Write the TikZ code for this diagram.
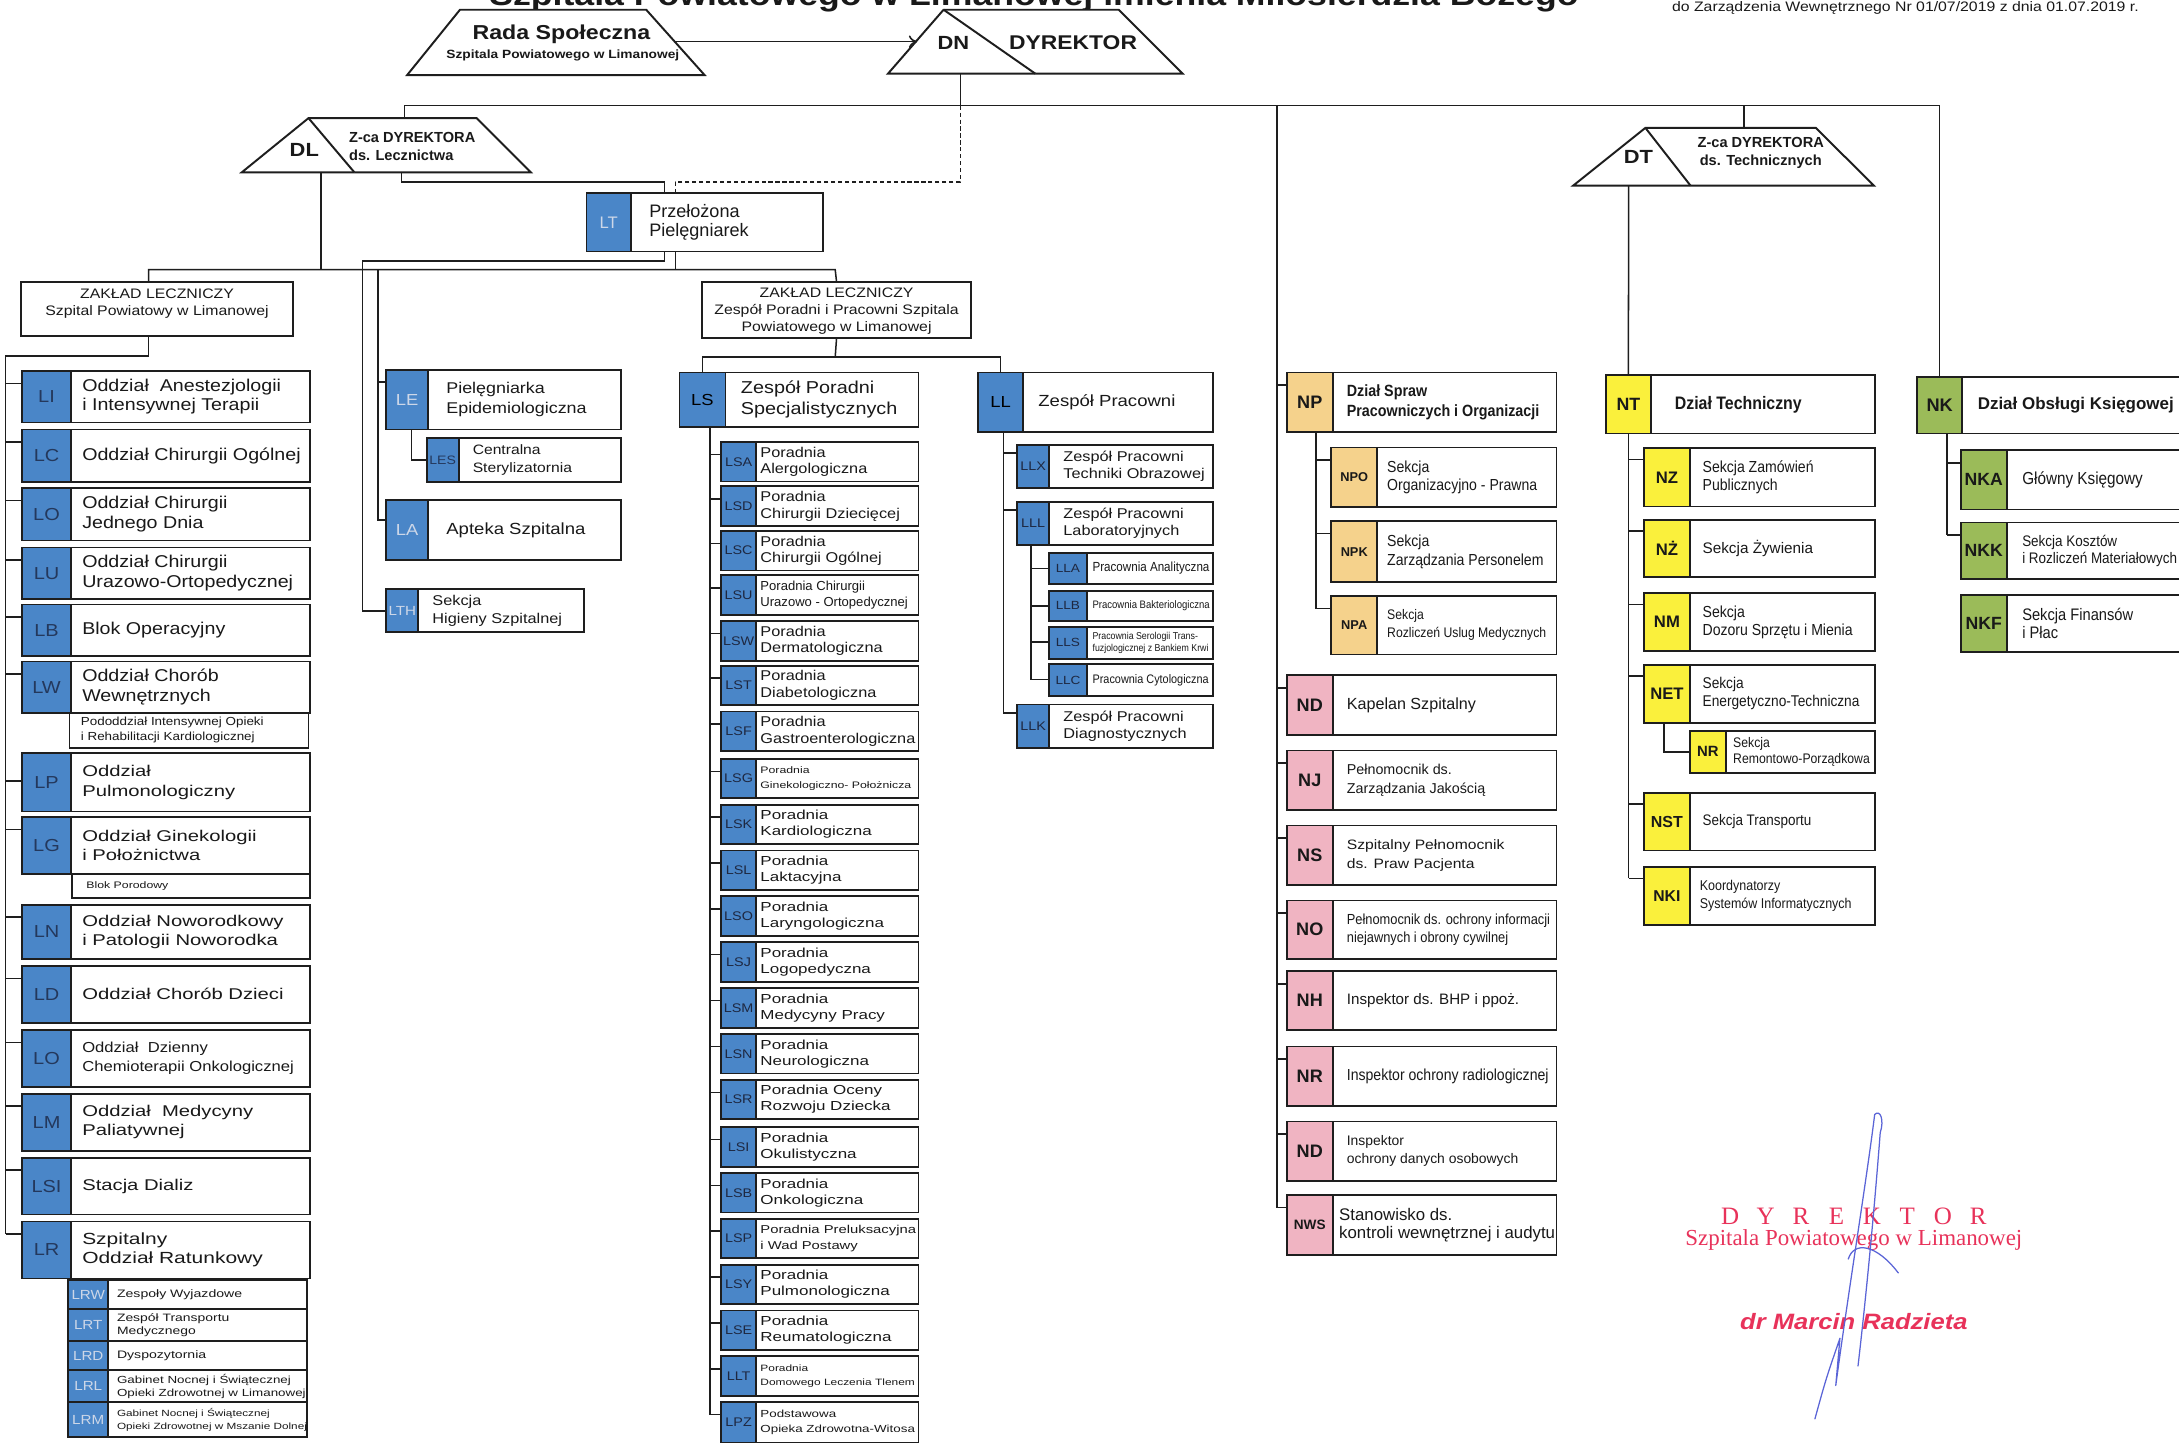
\documentclass[tikz,border=0pt]{standalone}
\usepackage{fontspec}
\usepackage{tikz}
\usetikzlibrary{arrows.meta}
\setmainfont{Liberation Sans}
\newfontfamily\fplain{Liberation Sans}
\newfontfamily\fwide{Liberation Sans}[FakeStretch=1.15]
\newfontfamily\fxwide{Liberation Sans}[FakeStretch=1.3]
\newfontfamily\fnarrow{Liberation Sans}[FakeStretch=0.88]
\newfontfamily\fserif{Liberation Serif}
\newcommand{\fsz}[2]{\fontsize{#1}{#2}\selectfont}
\definecolor{lblue}{RGB}{74,134,200}
\definecolor{lnavy}{RGB}{36,56,92}
\definecolor{llight}{RGB}{205,215,232}
\definecolor{ldark}{RGB}{30,40,65}
\definecolor{porange}{RGB}{245,210,140}
\definecolor{npink}{RGB}{240,180,194}
\definecolor{tyellow}{RGB}{250,240,60}
\definecolor{kgreen}{RGB}{155,187,89}
\definecolor{linec}{RGB}{30,30,30}
\definecolor{txtc}{RGB}{25,25,25}
\definecolor{stampred}{RGB}{232,50,90}
\definecolor{signblue}{RGB}{90,100,215}
% unit box: name, x1, y1, x2, y2, code style, code, text font, text
\newcommand{\orgbox}[9]{%
  \node[unitbox, minimum width={(#4-(#2))*1pt}, minimum height={(#5-(#3))*1pt}] (#1) at (#2,#3) {};
  \node[codebox, #6, minimum width={\codew*1pt}, minimum height={(#5-(#3))*1pt}] (#1-c) at (#2,#3) {#7};
  \node[unittext, font=#8] (#1-t) at ([xshift=\txtpad*1pt]#1-c.east) {#9};
  \coordinate (#1-k) at ([yshift=-\tickdy*1pt]#1.north west);
}

\begin{document}
\begin{tikzpicture}[x=1pt, y=-1pt,
  unitbox/.style={draw=linec, line width=1.3pt, fill=white, anchor=north west, inner sep=0pt, outer sep=0pt},
  codebox/.style={draw=linec, line width=1.3pt, anchor=north west, inner sep=0pt, outer sep=0pt, text=txtc},
  unittext/.style={anchor=west, align=left, inner sep=0pt, text=txtc},
  plaintext/.style={inner sep=0pt, text=txtc},
  link/.style={draw=linec, line width=1.1pt},
  shapeln/.style={draw=linec, line width=1.4pt, fill=white},
  lcode/.style={fill=lblue, text=lnavy, font=\fwide\fsz{12.5}{14}},
  lcodelt/.style={fill=lblue, text=llight, font=\fwide\fsz{11.5}{12}},
  lbig/.style={fill=lblue, text=ldark, font=\fwide\fsz{11.5}{12}},
  lsub/.style={fill=lblue, text=ldark, font=\fwide\fsz{9}{10}},
  lrsub/.style={fill=lblue, text=llight, font=\fwide\fsz{9.5}{10}},
  pcode/.style={fill=porange, font=\fplain\bfseries\fsz{13}{14}},
  psub/.style={fill=porange, font=\fplain\bfseries\fsz{9.2}{10}},
  ncode/.style={fill=npink, font=\fplain\bfseries\fsz{13}{14}},
  tcode/.style={fill=tyellow, font=\fplain\bfseries\fsz{12}{13}},
  kcode/.style={fill=kgreen, font=\fplain\bfseries\fsz{12.7}{13}},
  stamptext/.style={inner sep=0pt, text=stampred},
  signln/.style={draw=signblue, line width=0.9pt, line cap=round, line join=round}]

\path[fill=white] (0,0) rectangle (1568,1041);
\useasboundingbox (0,0) rectangle (1568,1041);

\node[plaintext, anchor=base, font=\fwide\bfseries\fsz{22.3}{24}] (title) at (744,4) {Szpitala Powiatowego w Limanowej imienia Miłosierdzia Bożego};
\node[plaintext, anchor=base west, font=\fwide\fsz{9.9}{11}] (note) at (1203,8.5) {do Zarządzenia Wewnętrznego Nr 01/07/2019 z dnia 01.07.2019 r.};

% Rada Spoleczna -> DN
\draw[shapeln] (293,54) -- (331,7) -- (465,7) -- (507,54) -- cycle;
\node[plaintext, font=\fwide\bfseries\fsz{14.5}{15}] (rada-t) at (404,25) {Rada Społeczna};
\node[plaintext, font=\fwide\bfseries\fsz{8.6}{10}] (rada-s) at (405,40) {Szpitala Powiatowego w Limanowej};
\draw[shapeln] (639,53) -- (679,7) -- (805,7) -- (851,53) -- cycle;
\draw[shapeln] (679,7) -- (745,53);
\node[plaintext, font=\fwide\bfseries\fsz{13.7}{14}] (DN) at (686,31) {DN};
\node[plaintext, anchor=west, font=\fwide\bfseries\fsz{14.3}{15}] (DN-t) at (726,31) {DYREKTOR};
\coordinate (rada-e) at (486,30);
\coordinate (DN-w) at (660,30);
\draw[link, -{To[length=6pt,width=9pt]}] (rada-e) -- (DN-w);

% Z-ca DYREKTORA ds. Lecznictwa
\draw[shapeln] (174,124) -- (222,85) -- (343,85) -- (382,124) -- cycle;
\draw[shapeln] (222,85) -- (255,124);
\node[plaintext, font=\fwide\bfseries\fsz{13.7}{14}] (DL) at (219,108) {DL};
\node[plaintext, anchor=west, align=left, font=\fplain\bfseries\fsz{10.5}{13}] (DL-t) at (251,105.5) {Z-ca DYREKTORA\\ds. Lecznictwa};

% Z-ca DYREKTORA ds. Technicznych
\draw[shapeln] (1132,133.6) -- (1184,92) -- (1306.6,92) -- (1348.5,133.6) -- cycle;
\draw[shapeln] (1184,92) -- (1216.5,133.6);
\node[plaintext, font=\fwide\bfseries\fsz{13.7}{14}] (DT) at (1179,113) {DT};
\node[plaintext, align=center, font=\fplain\bfseries\fsz{10.5}{13}] (DT-t) at (1267,110) {Z-ca DYREKTORA\\ds. Technicznych};

% Przelozona Pielegniarek
\def\codew{32} \def\txtpad{13} \def\tickdy{9}
\orgbox{LT}{422}{139}{592}{181}{lcodelt, font=\fplain\fsz{12}{12}}{LT}{\fplain\fsz{13}{14}}{Przełożona\\Pielęgniarek}

% zaklady lecznicze
\node[unitbox, minimum width=196pt, minimum height=39pt] (ZL1) at (15,203) {};
\node[plaintext, align=center, font=\fwide\fsz{9.9}{12}] (ZL1-t) at (113,218.5) {ZAKŁAD LECZNICZY\\Szpital Powiatowy w Limanowej};
\node[unitbox, minimum width=194pt, minimum height=40pt] (ZL2) at (505,203) {};
\node[plaintext, align=center, font=\fwide\fsz{9.9}{12}] (ZL2-t) at (602,224) {ZAKŁAD LECZNICZY\\Zespół Poradni i Pracowni Szpitala\\Powiatowego w Limanowej};

% Szpital Powiatowy - oddzialy
\def\codew{35} \def\txtpad{8} \def\tickdy{9}
\orgbox{LI}{16}{267}{223}{304}{lcode}{LI}{\fwide\fsz{12.3}{14}}{Oddział\ \ Anestezjologii\\i Intensywnej Terapii}
\orgbox{LC}{16}{309}{223}{347}{lcode}{LC}{\fwide\fsz{12.3}{14}}{Oddział Chirurgii Ogólnej}
\orgbox{LO}{16}{351}{223}{389}{lcode}{LO}{\fwide\fsz{12.3}{14}}{Oddział Chirurgii\\Jednego Dnia}
\orgbox{LU}{16}{394}{223}{431}{lcode}{LU}{\fwide\fsz{12.3}{14}}{Oddział Chirurgii\\Urazowo-Ortopedycznej}
\orgbox{LB}{16}{435}{223}{472}{lcode}{LB}{\fwide\fsz{12.3}{14}}{Blok Operacyjny}
\orgbox{LW}{16}{476}{223}{513}{lcode}{LW}{\fwide\fsz{12.3}{14}}{Oddział Chorób\\Wewnętrznych}
\node[unitbox, minimum width=172pt, minimum height=25pt] (LWsub) at (50,513) {};
\node[unittext, font=\fwide\fsz{8.4}{11}] (LWsub-t) at ([xshift=8pt]LWsub.west) {Pododdział Intensywnej Opieki\\i Rehabilitacji Kardiologicznej};
\def\tickdy{20}
\orgbox{LP}{16}{542}{223}{584}{lcode}{LP}{\fxwide\fsz{11.2}{14}}{Oddział\\Pulmonologiczny}
\def\tickdy{9}
\orgbox{LG}{16}{588}{223}{629}{lcode}{LG}{\fxwide\fsz{11.2}{14}}{Oddział Ginekologii\\i Położnictwa}
\node[unitbox, minimum width=171pt, minimum height=17pt] (LGsub) at (52,629) {};
\node[unittext, font=\fxwide\fsz{6.8}{8}] (LGsub-t) at ([xshift=10pt]LGsub.west) {Blok Porodowy};
\orgbox{LN}{16}{651}{223}{690}{lcode}{LN}{\fxwide\fsz{11.2}{14}}{Oddział Noworodkowy\\i Patologii Noworodka}
\orgbox{LD}{16}{695}{223}{736}{lcode}{LD}{\fxwide\fsz{11.2}{14}}{Oddział Chorób Dzieci}
\orgbox{LO2}{16}{741}{223}{782}{lcode}{LO}{\fwide\fsz{10.4}{14}}{Oddział\ \ Dzienny\\Chemioterapii Onkologicznej}
\orgbox{LM}{16}{787}{223}{828}{lcode}{LM}{\fxwide\fsz{11.2}{14}}{Oddział\ \ Medycyny\\Paliatywnej}
\orgbox{LSI}{16}{833}{223}{874}{lcode}{LSI}{\fxwide\fsz{11.2}{14}}{Stacja Dializ}
\orgbox{LR}{16}{879}{223}{920}{lcode}{LR}{\fxwide\fsz{11.6}{14}}{Szpitalny\\Oddział Ratunkowy}
\def\codew{29} \def\txtpad{6}
\orgbox{LRW}{49}{921}{221}{942}{lrsub}{LRW}{\fxwide\fsz{7.8}{10}}{Zespoły Wyjazdowe}
\orgbox{LRT}{49}{942}{221}{965}{lrsub}{LRT}{\fxwide\fsz{7.7}{9.5}}{Zespół Transportu\\Medycznego}
\orgbox{LRD}{49}{965}{221}{986}{lrsub}{LRD}{\fxwide\fsz{7.8}{10}}{Dyspozytornia}
\orgbox{LRL}{49}{986}{221}{1009}{lrsub}{LRL}{\fxwide\fsz{7.4}{9.5}}{Gabinet Nocnej i Świątecznej\\Opieki Zdrowotnej w Limanowej}
\orgbox{LRM}{49}{1009}{221}{1034}{lrsub}{LRM}{\fxwide\fsz{6.5}{9.5}}{Gabinet Nocnej i Świątecznej\\Opieki Zdrowotnej w Mszanie Dolnej}

% stanowiska przy Przelozonej
\def\codew{30} \def\txtpad{13}
\orgbox{LE}{278}{266}{447}{309}{lcodelt}{LE}{\fwide\fsz{11.2}{15}}{Pielęgniarka\\Epidemiologiczna}
\def\tickdy{14}
\orgbox{LA}{278}{360}{447}{403}{lcodelt}{LA}{\fwide\fsz{11.6}{14}}{Apteka Szpitalna}
\def\tickdy{9} \def\codew{23} \def\txtpad{10}
\orgbox{LES}{307}{315}{447}{347}{lbig, text=lnavy, font=\fwide\fsz{8.8}{10}}{LES}{\fwide\fsz{9.8}{13}}{Centralna\\Sterylizatornia}
\orgbox{LTH}{278}{424}{420}{455}{lcodelt, font=\fwide\fsz{9.5}{10}}{LTH}{\fwide\fsz{10.2}{13}}{Sekcja\\Higieny Szpitalnej}

% Zespol Poradni Specjalistycznych
\def\codew{33} \def\txtpad{11}
\orgbox{LS}{489}{268}{661}{307}{lbig, text=black}{LS}{\fwide\fsz{12.4}{15}}{Zespół Poradni\\Specjalistycznych}
\def\codew{25} \def\txtpad{3}
\orgbox{LSA}{519}{318}{661}{346.5}{lsub}{LSA}{\fwide\fsz{10.2}{11.8}}{Poradnia\\Alergologiczna}
\orgbox{LSD}{519}{350}{661}{378.5}{lsub}{LSD}{\fwide\fsz{10.2}{11.8}}{Poradnia\\Chirurgii Dziecięcej}
\orgbox{LSC}{519}{382}{661}{410.5}{lsub}{LSC}{\fwide\fsz{10.2}{11.8}}{Poradnia\\Chirurgii Ogólnej}
\orgbox{LSU}{519}{414}{661}{442.5}{lsub}{LSU}{\fplain\fsz{9.4}{11.5}}{Poradnia Chirurgii\\Urazowo - Ortopedycznej}
\orgbox{LSW}{519}{447}{661}{475.5}{lsub}{LSW}{\fwide\fsz{10.2}{11.8}}{Poradnia\\Dermatologiczna}
\orgbox{LST}{519}{479}{661}{507.5}{lsub}{LST}{\fwide\fsz{10.2}{11.8}}{Poradnia\\Diabetologiczna}
\orgbox{LSF}{519}{512}{661}{540.5}{lsub}{LSF}{\fwide\fsz{10.2}{11.8}}{Poradnia\\Gastroenterologiczna}
\orgbox{LSG}{519}{546}{661}{574.5}{lsub}{LSG}{\fxwide\fsz{6.8}{10.5}}{Poradnia\\Ginekologiczno- Położnicza}
\orgbox{LSK}{519}{579}{661}{607.5}{lsub}{LSK}{\fxwide\fsz{9.4}{11.5}}{Poradnia\\Kardiologiczna}
\orgbox{LSL}{519}{612}{661}{640.5}{lsub}{LSL}{\fxwide\fsz{9.4}{11.5}}{Poradnia\\Laktacyjna}
\orgbox{LSO}{519}{645}{661}{673.5}{lsub}{LSO}{\fxwide\fsz{9.4}{11.5}}{Poradnia\\Laryngologiczna}
\orgbox{LSJ}{519}{678}{661}{706.5}{lsub}{LSJ}{\fxwide\fsz{9.4}{11.5}}{Poradnia\\Logopedyczna}
\orgbox{LSM}{519}{711}{661}{739.5}{lsub}{LSM}{\fxwide\fsz{9.4}{11.5}}{Poradnia\\Medycyny Pracy}
\orgbox{LSN}{519}{744}{661}{772.5}{lsub}{LSN}{\fxwide\fsz{9.4}{11.5}}{Poradnia\\Neurologiczna}
\orgbox{LSR}{519}{777}{661}{805.5}{lsub}{LSR}{\fxwide\fsz{9.4}{11.5}}{Poradnia Oceny\\Rozwoju Dziecka}
\orgbox{LSI2}{519}{811}{661}{839.5}{lsub}{LSI}{\fxwide\fsz{9.4}{11.5}}{Poradnia\\Okulistyczna}
\orgbox{LSB}{519}{844}{661}{872.5}{lsub}{LSB}{\fxwide\fsz{9.4}{11.5}}{Poradnia\\Onkologiczna}
\orgbox{LSP}{519}{877}{661}{905.5}{lsub}{LSP}{\fxwide\fsz{8.2}{11}}{Poradnia Preluksacyjna\\i Wad Postawy}
\orgbox{LSY}{519}{910}{661}{938.5}{lsub}{LSY}{\fxwide\fsz{9.4}{11.5}}{Poradnia\\Pulmonologiczna}
\orgbox{LSE}{519}{943}{661}{971.5}{lsub}{LSE}{\fxwide\fsz{9.4}{11.5}}{Poradnia\\Reumatologiczna}
\orgbox{LLT}{519}{976}{661}{1004.5}{lsub}{LLT}{\fxwide\fsz{6.6}{10}}{Poradnia\\Domowego Leczenia Tlenem}
\orgbox{LPZ}{519}{1009}{661}{1038}{lsub}{LPZ}{\fxwide\fsz{7.4}{10.5}}{Podstawowa\\Opieka Zdrowotna-Witosa}

% Zespol Pracowni
\def\codew{32} \def\txtpad{11}
\orgbox{LL}{704}{268}{873}{311}{lbig, text=black}{LL}{\fwide\fsz{11.6}{14}}{Zespół Pracowni}
\def\codew{23} \def\txtpad{10} \def\tickdy{6}
\orgbox{LLX}{732}{320}{873}{351}{lsub}{LLX}{\fwide\fsz{10.2}{12.5}}{Zespół Pracowni\\Techniki Obrazowej}
\orgbox{LLL}{732}{361}{873}{392}{lsub}{LLL}{\fwide\fsz{10.2}{12.5}}{Zespół Pracowni\\Laboratoryjnych}
\orgbox{LLK}{732}{507}{873}{538}{lsub}{LLK}{\fwide\fsz{10.2}{12.5}}{Zespół Pracowni\\Diagnostycznych}
\def\codew{27} \def\txtpad{4} \def\tickdy{11}
\orgbox{LLA}{755}{398}{873}{420}{lsub, font=\fwide\fsz{8.5}{10}}{LLA}{\fnarrow\fsz{9.5}{10}}{Pracownia Analityczna}
\orgbox{LLB}{755}{425}{873}{447}{lsub, font=\fwide\fsz{8.5}{10}}{LLB}{\fnarrow\fsz{7.8}{10}}{Pracownia Bakteriologiczna}
\orgbox{LLS}{755}{451}{873}{474}{lsub, font=\fwide\fsz{8.5}{10}}{LLS}{\fnarrow\fsz{7.2}{9}}{Pracownia Serologii Trans-\\fuzjologicznej z Bankiem Krwi}
\orgbox{LLC}{755}{478}{873}{501}{lsub, font=\fwide\fsz{8.5}{10}}{LLC}{\fnarrow\fsz{8.9}{10}}{Pracownia Cytologiczna}

% komorki przy Dyrektorze
\def\codew{33} \def\txtpad{10} \def\tickdy{9}
\orgbox{NP}{926}{268}{1120}{311}{pcode}{NP}{\fnarrow\bfseries\fsz{11.7}{14.5}}{Dział Spraw\\Pracowniczych i Organizacji}
\def\txtpad{7}
\orgbox{NPO}{958}{322}{1120}{365}{psub}{NPO}{\fnarrow\fsz{11.5}{13.5}}{Sekcja\\Organizacyjno - Prawna}
\orgbox{NPK}{958}{375}{1120}{419}{psub}{NPK}{\fnarrow\fsz{11.5}{13.5}}{Sekcja\\Zarządzania Personelem}
\orgbox{NPA}{958}{429}{1120}{471}{psub}{NPA}{\fnarrow\fsz{10}{13}}{Sekcja\\Rozliczeń Uslug Medycznych}
\def\txtpad{10}
\orgbox{ND}{926}{486}{1120}{529}{ncode}{ND}{\fplain\fsz{11.6}{14}}{Kapelan Szpitalny}
\orgbox{NJ}{926}{540}{1120}{583}{ncode}{NJ}{\fplain\fsz{10.3}{13.5}}{Pełnomocnik ds.\\Zarządzania Jakością}
\orgbox{NS}{926}{594}{1120}{637}{ncode}{NS}{\fwide\fsz{9.8}{13.5}}{Szpitalny Pełnomocnik\\ds. Praw Pacjenta}
\orgbox{NO}{926}{648}{1120}{690}{ncode}{NO}{\fnarrow\fsz{10.5}{13}}{Pełnomocnik ds. ochrony informacji\\niejawnych i obrony cywilnej}
\orgbox{NH}{926}{699}{1120}{741}{ncode}{NH}{\fplain\fsz{10.9}{13}}{Inspektor ds. BHP i ppoż.}
\orgbox{NR}{926}{753}{1120}{796}{ncode}{NR}{\fnarrow\fsz{11.5}{13}}{Inspektor ochrony radiologicznej}
\orgbox{ND2}{926}{807}{1120}{850}{ncode}{ND}{\fplain\fsz{10}{13}}{Inspektor\\ochrony danych osobowych}
\def\txtpad{4.5}
\orgbox{NWS}{926}{860}{1120}{903}{ncode, font=\fplain\bfseries\fsz{9.8}{10}}{NWS}{\fplain\fsz{12.1}{13.2}}{Stanowisko ds.\\kontroli wewnętrznej i audytu}

% Dzial Techniczny
\def\codew{32.5} \def\txtpad{17}
\orgbox{NT}{1155.5}{270}{1349}{312}{tcode, font=\fplain\bfseries\fsz{12.8}{13}}{NT}{\fnarrow\bfseries\fsz{13}{14}}{Dział Techniczny}
\def\codew{33} \def\txtpad{9} \def\tickdy{8}
\orgbox{NZ}{1183}{322.5}{1349}{364.5}{tcode}{NZ}{\fnarrow\fsz{11.5}{13}}{Sekcja Zamówień\\Publicznych}
\orgbox{NZZ}{1183}{374}{1349}{415}{tcode}{NŻ}{\fplain\fsz{11}{13}}{Sekcja Żywienia}
\orgbox{NM}{1183}{427}{1349}{468.5}{tcode}{NM}{\fnarrow\fsz{11.5}{13}}{Sekcja\\Dozoru Sprzętu i Mienia}
\orgbox{NET}{1183}{478.5}{1349}{520}{tcode}{NET}{\fnarrow\fsz{11.2}{13}}{Sekcja\\Energetyczno-Techniczna}
\orgbox{NST}{1183}{570.6}{1349}{612}{tcode, font=\fplain\bfseries\fsz{11.5}{13}}{NST}{\fnarrow\fsz{11}{13}}{Sekcja Transportu}
\def\txtpad{7}
\orgbox{NKI}{1183}{624}{1349}{665.6}{tcode, font=\fplain\bfseries\fsz{11.3}{13}}{NKI}{\fnarrow\fsz{10.2}{13}}{Koordynatorzy\\Systemów Informatycznych}
\def\codew{26} \def\txtpad{5} \def\tickdy{15}
\orgbox{NR2}{1216}{526}{1349}{556}{tcode, font=\fplain\bfseries\fsz{10.7}{12}}{NR}{\fnarrow\fsz{10}{12}}{Sekcja\\Remontowo-Porządkowa}

% Dzial Obslugi Ksiegowej
\def\codew{32.5} \def\txtpad{11} \def\tickdy{9}
\orgbox{NK}{1379.5}{271}{1620}{312}{kcode, font=\fplain\bfseries\fsz{13.1}{14}}{NK}{\fplain\bfseries\fsz{12.2}{14}}{Dział Obsługi Księgowej}
\def\codew{33}
\orgbox{NKA}{1411}{324}{1620}{366.6}{kcode}{NKA}{\fnarrow\fsz{12.5}{13}}{Główny Księgowy}
\orgbox{NKK}{1411}{376}{1620}{416.6}{kcode}{NKK}{\fnarrow\fsz{11}{12.5}}{Sekcja Kosztów\\i Rozliczeń Materiałowych}
\orgbox{NKF}{1411}{428}{1620}{469}{kcode}{NKF}{\fnarrow\fsz{12}{12.5}}{Sekcja Finansów\\i Płac}

% linie podleglosci
\coordinate (DN-b) at (691,53);
\coordinate (bar-l) at (291,76);
\coordinate (bar-r) at (1395.75,76);
\coordinate (DL-a) at (291,85);
\coordinate (DT-a) at (1255,92);
\coordinate (N-t) at (919,76);
\draw[link] (DN-b) -- (DN-b |- bar-l);
\draw[link] (DL-a) -- (bar-l) -- (bar-r) -- (NK-c.north);
\draw[link] (DT-a) -- (DT-a |- bar-l);
\draw[link] (N-t) -- (N-t |- NWS-k);
\foreach \c in {NP,ND,NJ,NS,NO,NH,NR,ND2,NWS} \draw[link] (N-t |- \c-k) -- (\c-k);
\coordinate (np-t) at (947,311);
\draw[link] (np-t) -- (np-t |- NPA-k);
\foreach \c in {NPO,NPK,NPA} \draw[link] (np-t |- \c-k) -- (\c-k);

\coordinate (DT-b) at (1172,133.6);
\draw[link] (DT-b) -- (NT-c.north);
\coordinate (nt-t) at (1172,312);
\draw[link] (nt-t) -- (nt-t |- NKI-k);
\foreach \c in {NZ,NZZ,NM,NET,NST,NKI} \draw[link] (nt-t |- \c-k) -- (\c-k);
\draw[link] ([xshift=-2pt]NET-c.south) |- (NR2-k);
\coordinate (nk-t) at (1401,312);
\draw[link] (nk-t) -- (nk-t |- NKK-k);
\foreach \c in {NKA,NKK} \draw[link] (nk-t |- \c-k) -- (\c-k);

% DL i Przelozona
\coordinate (DL-b) at (231,124);
\coordinate (DL-b2) at (289,124);
\coordinate (lt-s) at (478,131);
\coordinate (lt-d) at (486,131);
\draw[link] (DL-b2) |- (lt-s) -- (lt-s |- LT.north);
\draw[link, dash pattern=on 3pt off 2pt] (DN-b |- bar-l) |- (lt-d) -- (lt-d |- LT.north);
\coordinate (bar2-l) at (107,194);
\coordinate (bar2-r) at (601,194);
\draw[link] (DL-b) -- (DL-b |- bar2-l);
\draw[link] (bar2-l |- ZL1.north) -- (bar2-l) -- (bar2-r) -- (ZL2.north);
\draw[link] (LT.south -| lt-d) -- (lt-d |- bar2-l);
\coordinate (lth-t) at (261,188);
\draw[link] (LT.south -| lt-s) |- (lth-t) |- (LTH.west);
\coordinate (le-t) at (272,194);
\draw[link] (le-t) |- (LA-k);
\draw[link] (le-t |- LE-k) -- (LE-k);
\draw[link] ([xshift=3pt]LE-c.south) |- (LES.west);

% Szpital Powiatowy
\coordinate (zl-t) at (4,256);
\draw[link] (ZL1.south -| bar2-l) |- (zl-t) -- (zl-t |- LR-k);
\foreach \c in {LI,LC,LO,LU,LB,LW,LP,LG,LN,LD,LO2,LM,LSI,LR} \draw[link] (zl-t |- \c-k) -- (\c-k);

% Zespol Poradni i Pracowni
\coordinate (zl2-m) at (601,257);
\draw[link] (ZL2.south) -- (zl2-m);
\draw[link] (LS-c.north) |- (zl2-m) -| (LL-c.north);
\coordinate (ls-t) at (511,307);
\draw[link] (ls-t) -- (ls-t |- LPZ-k);
\foreach \c in {LSA,LSD,LSC,LSU,LSW,LST,LSF,LSG,LSK,LSL,LSO,LSJ,LSM,LSN,LSR,LSI2,LSB,LSP,LSY,LSE,LLT,LPZ} \draw[link] (ls-t |- \c-k) -- (\c-k);
\coordinate (ll-t) at (722,311);
\draw[link] (ll-t) -- (ll-t |- LLK-k);
\foreach \c in {LLX,LLL,LLK} \draw[link] (ll-t |- \c-k) -- (\c-k);
\coordinate (lll-t) at (742,392);
\draw[link] (lll-t) -- (lll-t |- LLC-k);
\foreach \c in {LLA,LLB,LLS,LLC} \draw[link] (lll-t |- \c-k) -- (\c-k);

% pieczec i podpis
\foreach \ch [count=\i] in {D,Y,R,E,K,T,O,R}
  \node[stamptext, font=\fserif\fsz{18}{18}] (dyr\i) at ({1245+25.5*(\i-1)},875.5) {\ch};
\node[stamptext, font=\fserif\fsz{16.5}{18}] (stamp-s) at (1334,892) {Szpitala Powiatowego w Limanowej};
\node[stamptext, font=\fwide\bfseries\itshape\fsz{16}{18}] (stamp-n) at (1334,951) {dr Marcin Radzieta};
\draw[signln] (1306,1021) .. controls (1314,992) .. (1324,963) .. controls (1323,980) .. (1321,997) .. controls (1330,930) and (1343,850) .. (1349,802) .. controls (1353,798) and (1356,806) .. (1353,815) .. controls (1348,880) and (1342,940) .. (1337,983);
\draw[signln] (1330,906) .. controls (1334,893) and (1350,895) .. (1366,916);

\end{tikzpicture}
\end{document}
